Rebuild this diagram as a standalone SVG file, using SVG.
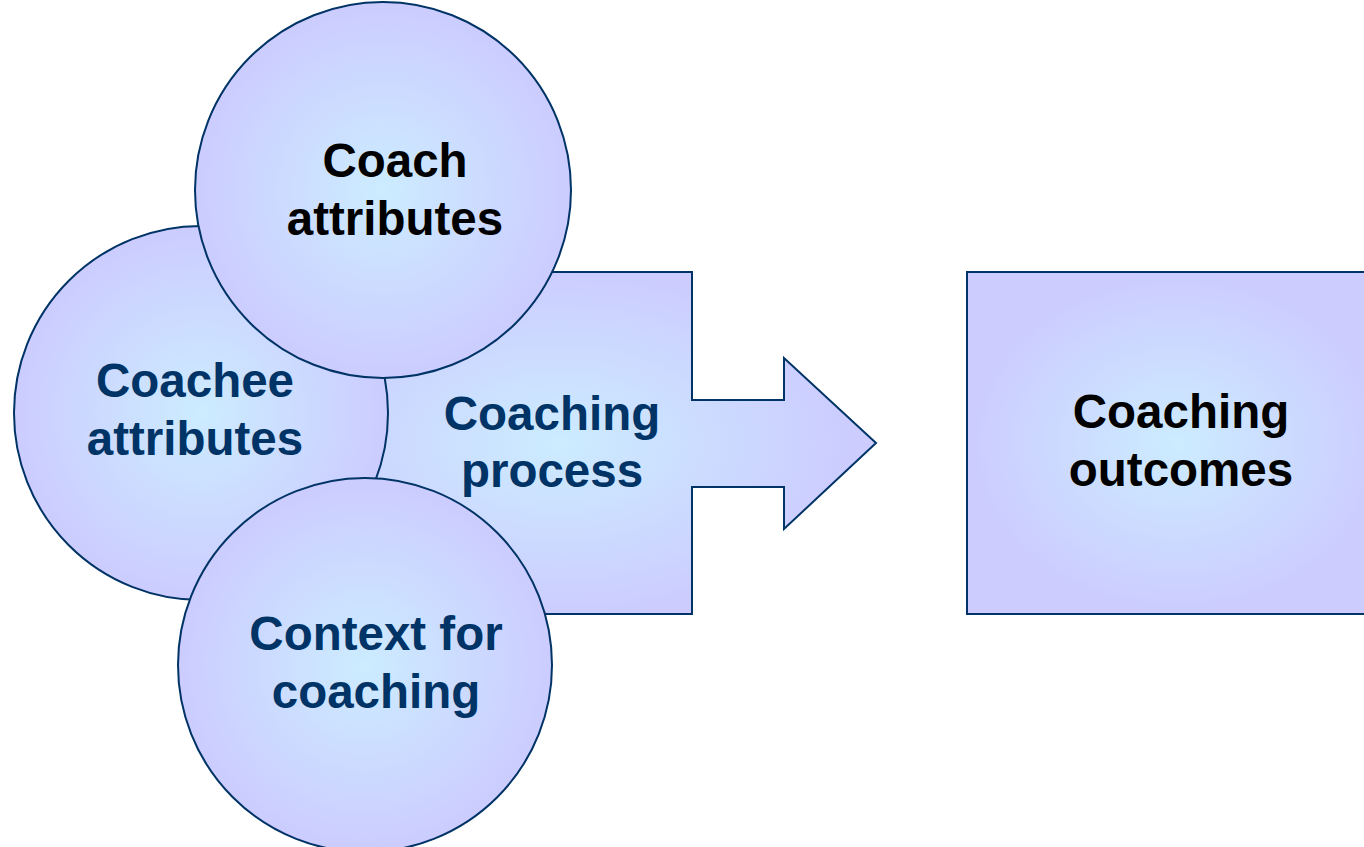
<svg xmlns="http://www.w3.org/2000/svg" width="1364" height="847" viewBox="0 0 1364 847">
<defs>
<radialGradient id="gc" cx="0.5" cy="0.5" r="0.5">
<stop offset="0" stop-color="#CCECFF"/>
<stop offset="1" stop-color="#CCCCFF"/>
</radialGradient>
<radialGradient id="gr" cx="0.5" cy="0.5" r="0.62">
<stop offset="0" stop-color="#CCECFF"/>
<stop offset="0.8" stop-color="#CCCCFF"/>
</radialGradient>
<radialGradient id="ga" cx="0.45" cy="0.5" r="0.6">
<stop offset="0" stop-color="#CCECFF"/>
<stop offset="0.85" stop-color="#CCCCFF"/>
</radialGradient>
</defs>
<style>
.shape{stroke:#003366;stroke-width:2}
.lbl{font-family:"Liberation Sans",Arial,sans-serif;font-weight:bold;font-size:47.5px;text-anchor:middle}
.navy{fill:#003366}
.blk{fill:#000000}
</style>
<g id="connectors"></g>
<g id="process">
<path class="shape" fill="url(#ga)" d="M300,272 L692,272 L692,400 L784,400 L784,358 L876,443 L784,529 L784,487 L692,487 L692,614 L300,614 Z"/>
<text class="lbl navy" x="552" y="430">Coaching</text>
<text class="lbl navy" x="552" y="487">process</text>
</g>
<g id="outcomes">
<rect class="shape" fill="url(#gr)" x="967" y="272" width="420" height="342"/>
<text class="lbl blk" x="1181" y="428">Coaching</text>
<text class="lbl blk" x="1181" y="486">outcomes</text>
</g>
<g id="coachee">
<circle class="shape" fill="url(#gc)" cx="201" cy="413" r="187"/>
<text class="lbl navy" x="195" y="397">Coachee</text>
<text class="lbl navy" x="195" y="455">attributes</text>
</g>
<g id="coach">
<circle class="shape" fill="url(#gc)" cx="383" cy="190" r="188"/>
<text class="lbl blk" x="395" y="177">Coach</text>
<text class="lbl blk" x="395" y="235">attributes</text>
</g>
<g id="context">
<circle class="shape" fill="url(#gc)" cx="365" cy="665" r="187"/>
<text class="lbl navy" x="376" y="650">Context for</text>
<text class="lbl navy" x="376" y="708">coaching</text>
</g>
</svg>
